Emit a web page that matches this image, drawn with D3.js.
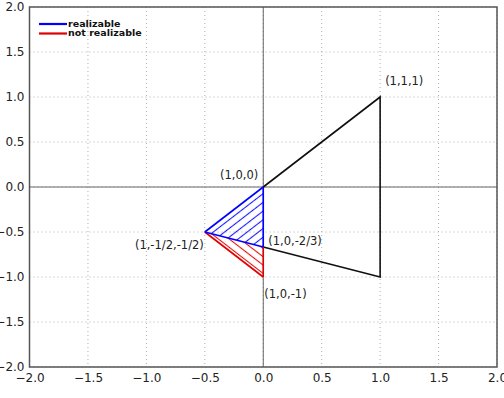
<!DOCTYPE html>
<html><head><meta charset="utf-8">
<script src="https://cdn.jsdelivr.net/npm/d3@7"></script>
<style>body{margin:0;background:#fff}svg{display:block}</style>
</head><body><svg id="c" width="504" height="398"></svg>
<script>
const xTicks = [-2.0,-1.5,-1.0,-0.5,0.0,0.5,1.0,1.5,2.0];
const yTicks = [-2.0,-1.5,-1.0,-0.5,0.0,0.5,1.0,1.5,2.0];
const blackPath = [[0,-2/3],[1,-1],[1,1],[0,0]];
const blueTri = [[0,0],[-0.5,-0.5],[0,-2/3]];
const redTri = [[-0.5,-0.5],[0,-2/3],[0,-1]];
const redEdges = [[[-0.5,-0.5],[0,-1]],[[0,-2/3],[0,-1]]];
const blueEdges = [[[0,0],[-0.5,-0.5]],[[-0.5,-0.5],[0,-2/3]],[[0,-2/3],[0,0]]];
const labels = [
  {t:"(1,1,1)", x:1, y:1, anchor:"start", dx:5, dy:-16},
  {t:"(1,0,0)", x:0, y:0, anchor:"end", dx:-5, dy:-12},
  {t:"(1,-1/2,-1/2)", x:-0.5, y:-0.5, anchor:"end", dx:-1, dy:13},
  {t:"(1,0,-2/3)", x:0, y:-2/3, anchor:"start", dx:5, dy:-6},
  {t:"(1,0,-1)", x:0, y:-1, anchor:"start", dx:1, dy:17}
];
const legendItems = [{name:"realizable", color:"#0000ff"},{name:"not realizable", color:"#e00000"}];

const svg = d3.select("#c");
const x = d3.scaleLinear().domain([-2,2]).range([29.5,497]);
const y = d3.scaleLinear().domain([-2,2]).range([367,7]);
const defs = svg.append("defs");
defs.append("clipPath").attr("id","plot").append("rect")
  .attr("x",x(-2)).attr("y",y(2)).attr("width",x(2)-x(-2)).attr("height",y(-2)-y(2));
const ang = Math.atan2(y(0)-y(1), x(1)-x(0))*180/Math.PI;
function hatch(id,color,angle,sp,w){
  const p = defs.append("pattern").attr("id",id).attr("patternUnits","userSpaceOnUse")
    .attr("width",sp).attr("height",10).attr("patternTransform",`rotate(${angle})`);
  p.append("line").attr("x1",sp/2).attr("x2",sp/2).attr("y1",0).attr("y2",10)
    .attr("stroke",color).attr("stroke-width",w);
}
hatch("hb","#1a1aff",90-ang,6.9,1.1);
hatch("hr","#e01010",-(90-ang),6.6,1.1);

const g = svg.append("g");
g.selectAll(".gx").data(xTicks).enter().append("line")
  .attr("x1",d=>x(d)).attr("x2",d=>x(d)).attr("y1",y(2)).attr("y2",y(-2))
  .attr("stroke","#b0b0b0").attr("stroke-width",1).attr("stroke-dasharray","1,3");
g.selectAll(".gy").data(yTicks).enter().append("line")
  .attr("y1",d=>y(d)).attr("y2",d=>y(d)).attr("x1",x(-2)).attr("x2",x(2))
  .attr("stroke","#b0b0b0").attr("stroke-width",1).attr("stroke-dasharray","1,3");
g.append("line").attr("x1",x(0)).attr("x2",x(0)).attr("y1",y(2)).attr("y2",y(-2)).attr("stroke","#666").attr("stroke-width",1);
g.append("line").attr("y1",y(0)).attr("y2",y(0)).attr("x1",x(-2)).attr("x2",x(2)).attr("stroke","#666").attr("stroke-width",1);

const line = d3.line().x(d=>x(d[0])).y(d=>y(d[1]));
const pg = svg.append("g").attr("clip-path","url(#plot)");
pg.append("path").attr("d",line(blackPath)).attr("fill","none").attr("stroke","#111").attr("stroke-width",1.6);
pg.append("path").attr("d",line(redTri)+"Z").attr("fill","url(#hr)").attr("stroke","none");
pg.append("path").attr("d",line(blueTri)+"Z").attr("fill","url(#hb)").attr("stroke","none");
pg.selectAll(".re").data(redEdges).enter().append("path").attr("d",d=>line(d))
  .attr("fill","none").attr("stroke","#e00000").attr("stroke-width",1.6);
pg.selectAll(".be").data(blueEdges).enter().append("path").attr("d",d=>line(d))
  .attr("fill","none").attr("stroke","#0000ff").attr("stroke-width",1.6);

svg.selectAll(".lab").data(labels).enter().append("text")
  .attr("x",d=>x(d.x)+d.dx).attr("y",d=>y(d.y)+d.dy).attr("text-anchor",d=>d.anchor)
  .attr("dominant-baseline","middle")
  .style("font-family","DejaVu Sans").style("font-size","11.5px").attr("fill","#222").text(d=>d.t);

svg.append("rect").attr("x",x(-2)).attr("y",y(2)).attr("width",x(2)-x(-2)).attr("height",y(-2)-y(2))
  .attr("fill","none").attr("stroke","#555").attr("stroke-width",1.5);

const fmt = d=>d3.format(".1f")(d).replace("-","\u2212");
const xa = svg.append("g").attr("transform",`translate(0,${y(-2)})`)
  .call(d3.axisBottom(x).tickValues(xTicks).tickFormat(fmt).tickSize(0).tickPadding(6));
const ya = svg.append("g").attr("transform",`translate(${x(-2)},0)`)
  .call(d3.axisLeft(y).tickValues(yTicks).tickFormat(fmt).tickSize(0).tickPadding(5));
[xa,ya].forEach(a=>{a.select(".domain").remove();
  a.selectAll("text").style("font-family","DejaVu Sans").style("font-size","12px").attr("fill","#222");});

const lg = svg.append("g");
legendItems.forEach((d,i)=>{
  const yy = 24 + i*9.5;
  lg.append("line").attr("x1",39).attr("x2",67).attr("y1",yy).attr("y2",yy).attr("stroke",d.color).attr("stroke-width",2.2);
  lg.append("text").attr("x",68).attr("y",yy).attr("dominant-baseline","middle")
    .style("font-family","DejaVu Sans").style("font-weight","bold").style("font-size","9.5px").attr("fill","#111").text(d.name);
});
</script></body></html>
